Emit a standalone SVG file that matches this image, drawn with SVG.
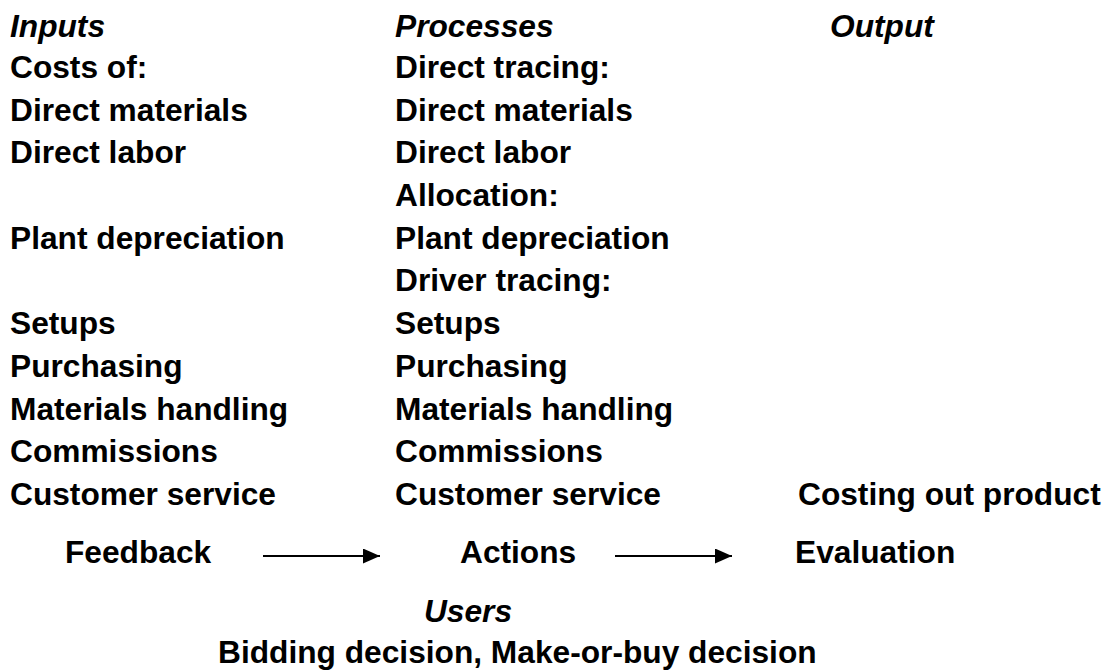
<svg xmlns="http://www.w3.org/2000/svg" width="1112" height="671" viewBox="0 0 1112 671">
<style>
text{font-family:"Liberation Sans",Arial,sans-serif;font-weight:bold;font-size:31.7px;fill:#000}
.h{font-style:italic}
.c{stroke:#000;stroke-width:2;fill:none}
</style>
<defs>
<marker id="ah" viewBox="0 0 17 15" refX="17" refY="7.5" markerWidth="17" markerHeight="15" orient="auto" markerUnits="userSpaceOnUse">
<path d="M0,0 L17,7.5 L0,15 z" fill="#000"/>
</marker>
</defs>
<rect width="1112" height="671" fill="#fff"/>
<g id="inputs">
<text class="h" x="10" y="37">Inputs</text>
<text x="10" y="78">Costs of:</text>
<text x="10" y="121">Direct materials</text>
<text x="10" y="163">Direct labor</text>
<text x="10" y="249">Plant depreciation</text>
<text x="10" y="334">Setups</text>
<text x="10" y="377">Purchasing</text>
<text x="10" y="420">Materials handling</text>
<text x="10" y="462">Commissions</text>
<text x="10" y="505">Customer service</text>
</g>
<g id="processes">
<text class="h" x="395" y="37">Processes</text>
<text x="395" y="78">Direct tracing:</text>
<text x="395" y="121">Direct materials</text>
<text x="395" y="163">Direct labor</text>
<text x="395" y="206">Allocation:</text>
<text x="395" y="249">Plant depreciation</text>
<text x="395" y="291">Driver tracing:</text>
<text x="395" y="334">Setups</text>
<text x="395" y="377">Purchasing</text>
<text x="395" y="420">Materials handling</text>
<text x="395" y="462">Commissions</text>
<text x="395" y="505">Customer service</text>
</g>
<g id="output">
<text class="h" x="830" y="37">Output</text>
<text x="798" y="505">Costing out product</text>
</g>
<g id="feedback"><text x="65" y="563">Feedback</text></g>
<g id="actions"><text x="460" y="563">Actions</text></g>
<g id="evaluation"><text x="795" y="563">Evaluation</text></g>
<g id="users">
<text class="h" x="468" y="622" text-anchor="middle">Users</text>
<text x="218" y="663">Bidding decision, Make-or-buy decision</text>
</g>
<g id="connectors">
<line class="c" x1="263" y1="556" x2="380" y2="556" marker-end="url(#ah)"/>
<line class="c" x1="615" y1="556" x2="732" y2="556" marker-end="url(#ah)"/>
</g>
</svg>
